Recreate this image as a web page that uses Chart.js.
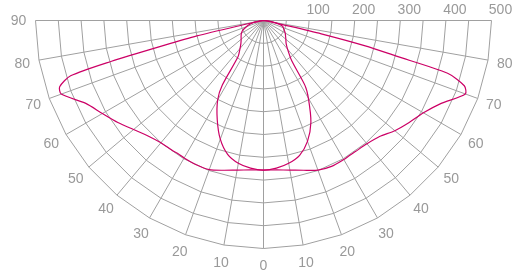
<!DOCTYPE html>
<html>
<head>
<meta charset="utf-8">
<script src="https://cdn.jsdelivr.net/npm/chart.js@4.4.1/dist/chart.umd.min.js"></script>
<style>
  body { margin: 0; background: #fff; }
  canvas { display: block; }
</style>
</head>
<body>
<canvas id="polar" width="521" height="276"></canvas>
<script>
// gamma angles (deg from nadir)
const angles = [0, 5, 10, 15, 20, 25, 30, 32.5, 35, 40, 45, 50, 55, 60, 65, 70, 72, 74, 75, 76, 77, 78, 80, 85, 90];

// intensity, right half of the wide curve
const c0 = [328, 329, 333, 340, 349, 353, 352, 351, 351, 353, 360, 376, 390, 405, 430, 471, 463, 420, 300, 230, 130, 40, 12, 3, 0];
// intensity, left half of the wide curve
const c180 = [328, 329, 333, 340, 348, 349, 348, 347, 348, 350, 358, 372, 390, 408, 430, 472, 470, 440, 345, 225, 150, 45, 10, 3, 0];
// narrow curve, right half
const c90 = [328, 325, 318, 306, 282, 246, 197, 170, 108, 82, 70, 64, 59, 55, 50, 46, 45, 42, 40, 37, 34, 31, 25, 12, 0];
// narrow curve, left half
const c270 = [328, 325, 318, 304, 277, 240, 201, 168, 98, 80, 70, 64, 60, 56, 50, 40, 36, 32, 30, 28, 26, 24, 18, 8, 0];

const ringValues = [50, 100, 150, 200, 250, 300, 350, 400, 450, 500];
const ringLabels = ["100", "200", "300", "400", "500"];
const angleTicks = [0, 10, 20, 30, 40, 50, 60, 70, 80, 90];

const curveColor = "#cc0066";
const gridColor = "#a0a0a0";

// polar -> x/y values, left side then right side
function buildCurve(left, right) {
  let pts = [];
  for (let i = angles.length - 1; i >= 0; i--) {
    let a = angles[i] * Math.PI / 180;
    pts.push({ x: -left[i] * Math.sin(a), y: left[i] * Math.cos(a) });
  }
  for (let i = 1; i < angles.length; i++) {
    let a = angles[i] * Math.PI / 180;
    pts.push({ x: right[i] * Math.sin(a), y: right[i] * Math.cos(a) });
  }
  return pts;
}

const polarGrid = {
  id: "polarGrid",
  beforeDatasetsDraw(chart) {
    const ctx = chart.ctx;
    const sx = chart.scales.x;
    const sy = chart.scales.y;
    const px = (r, deg) => sx.getPixelForValue(r * Math.sin(deg * Math.PI / 180));
    const py = (r, deg) => sy.getPixelForValue(r * Math.cos(deg * Math.PI / 180));
    const maxR = ringValues[ringValues.length - 1];

    ctx.save();
    ctx.strokeStyle = gridColor;
    ctx.lineWidth = 1;

    // spokes
    for (let deg = -90; deg <= 90; deg += 10) {
      ctx.beginPath();
      ctx.moveTo(px(0, 0), py(0, 0));
      ctx.lineTo(px(maxR, deg), py(maxR, deg));
      ctx.stroke();
    }
    // rings
    ringValues.forEach((r) => {
      ctx.beginPath();
      for (let deg = -90; deg <= 90; deg += 10) {
        if (deg == -90) ctx.moveTo(px(r, deg), py(r, deg));
        else ctx.lineTo(px(r, deg), py(r, deg));
      }
      ctx.stroke();
    });

    // labels
    ctx.fillStyle = "#999999";
    ctx.font = "14px 'Liberation Sans', Arial, sans-serif";
    ctx.textAlign = "center";
    ctx.textBaseline = "alphabetic";
    ringLabels.forEach((t) => {
      let v = Number(t);
      ctx.fillText(t, sx.getPixelForValue(v) + 9, py(0, 0) - 7);
    });

    ctx.textBaseline = "middle";
    const labelR = maxR * 245 / 228;
    angleTicks.forEach((a) => {
      ctx.fillText(String(a), px(labelR, -a), py(labelR, -a) + 1);
      if (a != 0 && a != 90) ctx.fillText(String(a), px(labelR, a), py(labelR, a) + 1);
    });
    ctx.restore();
  },
};

new Chart(document.getElementById("polar"), {
  type: "scatter",
  data: {
    datasets: [
      {
        label: "C0-C180",
        data: buildCurve(c180, c0),
        showLine: true,
        borderColor: curveColor,
        borderWidth: 1.2,
        pointRadius: 0,
        tension: 0.25,
      },
      {
        label: "C90-C270",
        data: buildCurve(c270, c90),
        showLine: true,
        borderColor: curveColor,
        borderWidth: 1.2,
        pointRadius: 0,
        tension: 0.25,
      },
    ],
  },
  options: {
    responsive: false,
    animation: false,
    clip: false,
    layout: { padding: { left: 35.5, right: 29.5, top: 20.5, bottom: 27.5 } },
    scales: {
      x: { type: "linear", min: -500, max: 500, display: false },
      y: { type: "linear", min: 0, max: 500, reverse: true, display: false },
    },
    plugins: {
      legend: { display: false },
      tooltip: { enabled: false },
    },
  },
  plugins: [polarGrid],
});
</script>
</body>
</html>
